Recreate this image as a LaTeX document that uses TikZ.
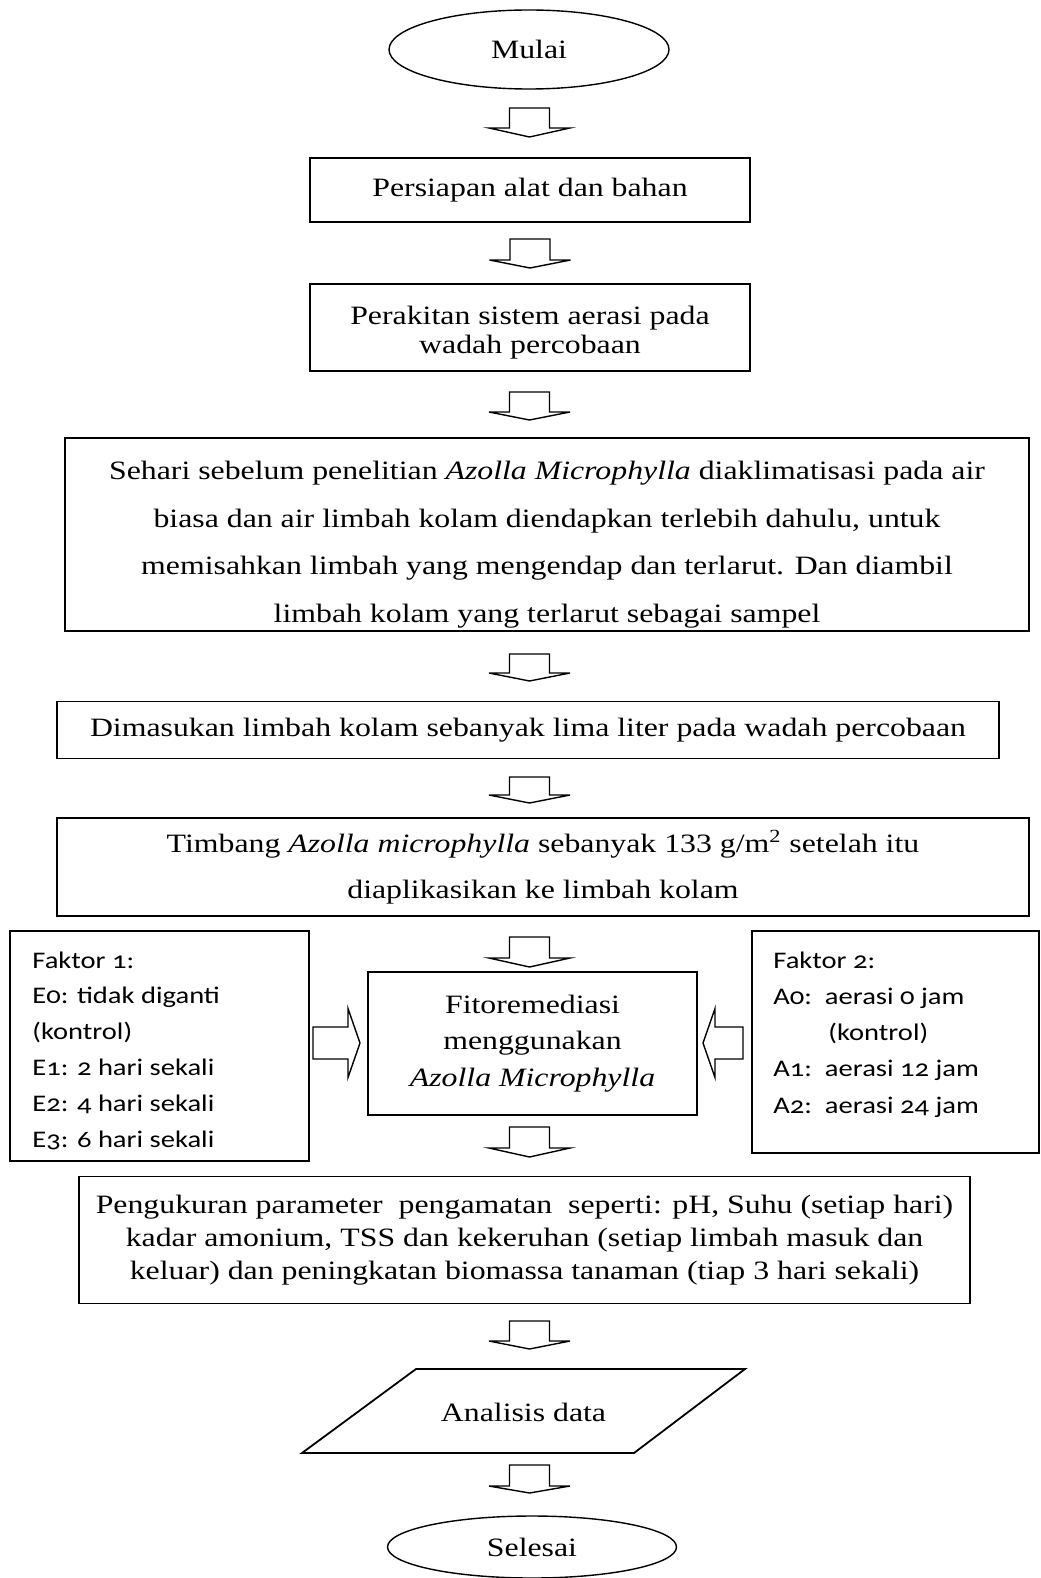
\documentclass[tikz,border=0pt]{standalone}
\usepackage{fontspec}
\setmainfont{Liberation Serif}[FakeStretch=1.2]
\newfontfamily\calfont{Carlito}[FakeStretch=1.2,Numbers=OldStyle]
\usetikzlibrary{shapes.geometric}
\newcommand\fsz[2]{\fontsize{#1}{#2}\selectfont}
\tikzset{
  box/.style={draw, line width=0.9pt, inner sep=0pt, align=center},
  txt/.style={inner sep=0pt, align=center},
  term/.style={draw, ellipse, line width=0.7pt, inner sep=0pt},
  blk/.style={draw, line width=0.7pt, line join=miter},
  pics/varrow/.style 2 args={code={\draw[blk] (-20,0) -- (20,0) -- (20,#1) -- (40.5,#1) -- (0,{#1+#2}) -- (-40.5,#1) -- (-20,#1) -- cycle;}},
  pics/harrow/.style 2 args={code={\draw[blk] (0,-16) -- (#1,-16) -- (#1,-34.5) -- ({#1+#2},0) -- (#1,34.5) -- (#1,16) -- (0,16) -- cycle;}},
}
\begin{document}
\begin{tikzpicture}[x=0.5pt,y=-0.5pt]
\useasboundingbox (0,0) rectangle (1040,1578);

\node[term, minimum width=140pt, minimum height=39.5pt, font=\fsz{13.25}{16}] (mulai) at (529,49.5) {Mulai};
\pic at (529.5,108) {varrow={20}{9}};

\node[box, minimum width=220pt, minimum height=32pt, font=\fsz{13.25}{16}] (persiapan) at (530,190) {Persiapan alat dan bahan};
\pic at (530,239) {varrow={21}{8}};

\node[box, minimum width=220pt, minimum height=43.5pt] (perakitan) at (530,327.5) {};
\node[txt, font=\fsz{13.25}{14.5}] (perakitantext) at (530,332.5) {Perakitan sistem aerasi pada\\ wadah percobaan};
\pic at (529.5,392) {varrow={20}{8}};

\node[box, minimum width=482pt, minimum height=96.5pt] (sehari) at (547,534.5) {};
\node[txt, font=\fsz{13.25}{23.8}] (seharitext) at (547,544.5) {Sehari sebelum penelitian \textit{Azolla Microphylla} diaklimatisasi pada air\\ biasa dan air limbah kolam diendapkan terlebih dahulu, untuk\\ memisahkan limbah yang mengendap dan terlarut. Dan diambil\\ limbah kolam yang terlarut sebagai sampel};
\pic at (529.5,654) {varrow={19}{8}};

\node[box, minimum width=471pt, minimum height=28.5pt, font=\fsz{13.25}{16}] (dimasukan) at (528,730) {Dimasukan limbah kolam sebanyak lima liter pada wadah percobaan};
\pic at (529.5,777) {varrow={18}{8}};

\node[box, minimum width=486pt, minimum height=49pt, font=\fsz{13.25}{22.65}] (timbang) at (543,867) {Timbang \textit{Azolla microphylla} sebanyak 133 g/m\textsuperscript{2} setelah itu\\ diaplikasikan ke limbah kolam};
\pic at (529.5,937) {varrow={21}{9}};

\node[box, minimum width=164.5pt, minimum height=71.5pt, font=\fsz{13.25}{18.4}] (fito) at (532.5,1043.5) {Fitoremediasi\\ menggunakan\\ \textit{Azolla Microphylla}};

\node[box, minimum width=149.5pt, minimum height=115pt] (faktor1) at (159.5,1046) {};
\node[box, minimum width=143.5pt, minimum height=111pt] (faktor2) at (895.5,1042) {};
\node[anchor=base west, align=left, inner sep=0pt, font=\calfont\fsz{11.9}{17.9}] (f1text) at (32,1147) {Faktor 1:\\ E0: tidak diganti\\ (kontrol)\\ E1: 2 hari sekali\\ E2: 4 hari sekali\\ E3: 6 hari sekali};
\node[anchor=base west, align=left, inner sep=0pt, font=\calfont\fsz{11.9}{18.1}] (f2text) at (773,1113) {Faktor 2:\\ A0:\ \ aerasi 0 jam\\ \hspace*{27.5pt}(kontrol)\\ A1:\ \ aerasi 12 jam\\ A2:\ \ aerasi 24 jam};

\pic at (313,1043) {harrow={35}{12}};
\pic[xscale=-1] at (743,1043) {harrow={28}{12}};

\pic at (529.5,1127) {varrow={21}{9}};

\node[box, minimum width=445.5pt, minimum height=63.5pt, font=\fsz{13.25}{16.35}] (pengukuran) at (524.5,1240) {Pengukuran parameter\ \ pengamatan\ \ seperti: pH, Suhu (setiap hari)\\ kadar amonium, TSS dan kekeruhan (setiap limbah masuk dan\\ keluar) dan peningkatan biomassa tanaman (tiap 3 hari sekali)};
\pic at (529.5,1321) {varrow={20}{8}};

\coordinate (p1) at (416,1369);
\coordinate (p2) at (745,1369);
\coordinate (p3) at (634,1453);
\coordinate (p4) at (302,1453);
\draw[line width=0.9pt] (p1) -- (p2) -- (p3) -- (p4) -- cycle;
\node[font=\fsz{13.25}{16}] (analisis) at (523.5,1412) {Analisis data};
\pic at (529.5,1465) {varrow={21}{7}};

\node[term, minimum width=144.5pt, minimum height=31pt, font=\fsz{13.25}{16}] (selesai) at (532,1547) {Selesai};
\end{tikzpicture}
\end{document}
